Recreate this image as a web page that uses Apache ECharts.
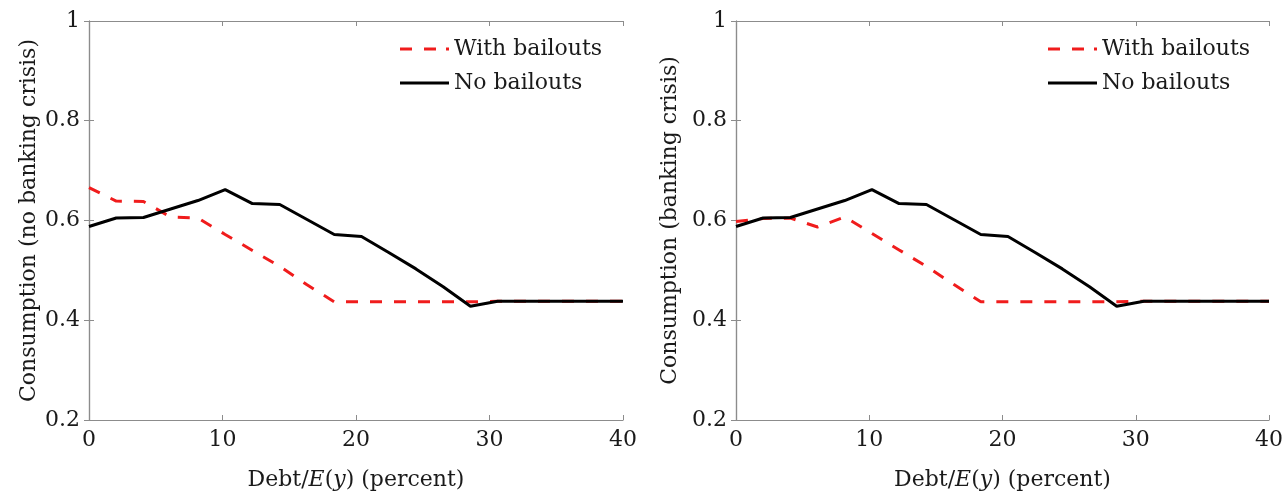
<!DOCTYPE html>
<html>
<head>
<meta charset="utf-8">
<script src="https://cdn.jsdelivr.net/npm/echarts@6/dist/echarts.min.js"></script>
<style>
html,body{margin:0;padding:0;background:#fff;}
#chart{width:1286px;height:496px;}
</style>
</head>
<body>
<div id="chart"></div>
<script>
// Debt / E(y) grid (percent)
const debt = [0, 2.04, 4.08, 6.12, 8.16, 10.2, 12.24, 14.29, 16.33, 18.37, 20.41, 22.45, 24.49, 26.53, 28.57, 30.61, 32.65, 34.69, 36.73, 38.78, 40];

// Left panel: no banking crisis
const leftWithBailouts = [0.666, 0.639, 0.638, 0.607, 0.605, 0.572, 0.540, 0.508, 0.471, 0.437, 0.437, 0.437, 0.437, 0.437, 0.437, 0.438, 0.438, 0.438, 0.438, 0.438, 0.438];
const leftNoBailouts   = [0.588, 0.605, 0.606, 0.623, 0.640, 0.662, 0.634, 0.632, 0.602, 0.572, 0.568, 0.536, 0.503, 0.467, 0.428, 0.438, 0.438, 0.438, 0.438, 0.438, 0.438];

// Right panel: banking crisis
const rightWithBailouts = [0.598, 0.604, 0.605, 0.587, 0.607, 0.574, 0.541, 0.508, 0.472, 0.437, 0.437, 0.437, 0.437, 0.437, 0.437, 0.438, 0.438, 0.438, 0.438, 0.438, 0.438];
const rightNoBailouts   = [0.588, 0.605, 0.606, 0.623, 0.640, 0.662, 0.634, 0.632, 0.602, 0.572, 0.568, 0.536, 0.503, 0.467, 0.428, 0.438, 0.438, 0.438, 0.438, 0.438, 0.438];

const seriesNames = ['With bailouts', 'No bailouts'];
const yTitles = ['Consumption (no banking crisis)', 'Consumption (banking crisis)'];
const xTitle = 'Debt/{i|E}({i|y}) (percent)';

const FONT = 'DejaVu Serif';
const TXT = '#1a1a1a';
const AX = '#8c8c8c';
const RED = '#f01c1c';

function pairs(xs, ys){ return xs.map((x,i)=>[x, ys[i]]); }

const grids = [
  {left: 89, top: 21, width: 534, height: 404},
  {left: 736, top: 21, width: 533, height: 404}
];

const xAxes = [], yAxes = [];
grids.forEach((g, gi) => {
  xAxes.push({
    type: 'value', gridIndex: gi, position: 'bottom', min: 0, max: 40, interval: 10,
    name: xTitle, nameLocation: 'middle', nameGap: 49,
    nameTextStyle: {fontFamily: FONT, fontSize: 22, color: TXT,
      rich: {i: {fontFamily: FONT, fontStyle: 'italic', fontSize: 22, color: TXT}}},
    axisLine: {show: true, lineStyle: {color: AX, width: 1.2}},
    axisTick: {show: true, inside: true, length: 5, lineStyle: {color: AX}},
    axisLabel: {fontFamily: FONT, fontSize: 22, color: TXT, margin: 9},
    splitLine: {show: false}
  });
  xAxes.push({
    type: 'value', gridIndex: gi, position: 'top', min: 0, max: 40, interval: 10,
    axisLine: {show: true, lineStyle: {color: AX, width: 1.2}},
    axisTick: {show: true, inside: true, length: 5, lineStyle: {color: AX}},
    axisLabel: {show: false}, splitLine: {show: false}
  });
  yAxes.push({
    type: 'value', gridIndex: gi, position: 'left', min: 0.2, max: 1, interval: 0.2,
    name: yTitles[gi], nameLocation: 'middle', nameGap: gi === 0 ? 49 : 55,
    nameTextStyle: {fontFamily: FONT, fontSize: 22, color: TXT},
    axisLine: {show: true, lineStyle: {color: AX, width: 1.2}},
    axisTick: {show: true, inside: true, length: 5, lineStyle: {color: AX}},
    axisLabel: {fontFamily: FONT, fontSize: 22, color: TXT, margin: 9,
      formatter: v => String(Math.round(v * 10) / 10)},
    splitLine: {show: false}
  });
  yAxes.push({
    type: 'value', gridIndex: gi, position: 'right', min: 0.2, max: 1, interval: 0.2,
    axisLine: {show: true, lineStyle: {color: AX, width: 1.2}},
    axisTick: {show: true, inside: true, length: 5, lineStyle: {color: AX}},
    axisLabel: {show: false}, splitLine: {show: false}
  });
});

const panelData = [
  [leftWithBailouts, leftNoBailouts],
  [rightWithBailouts, rightNoBailouts]
];

const series = [];
panelData.forEach((pd, gi) => {
  series.push({
    name: seriesNames[0], type: 'line', xAxisIndex: gi * 2, yAxisIndex: gi * 2,
    data: pairs(debt, pd[0]), symbol: 'none', silent: true, animation: false,
    lineStyle: {color: RED, width: 3, type: [12, 12]}, itemStyle: {color: RED}, z: 2
  });
  series.push({
    name: seriesNames[1], type: 'line', xAxisIndex: gi * 2, yAxisIndex: gi * 2,
    data: pairs(debt, pd[1]), symbol: 'none', silent: true, animation: false,
    lineStyle: {color: '#000', width: 3, type: 'solid'}, itemStyle: {color: '#000'}, z: 3
  });
});

const dashIcon = 'path://M0 0h12v3H0z M24 0h12v3H24z M46 0h3v3h-3z';
const solidIcon = 'path://M0 0h49v3H0z';

const legendBase = {
  data: [{name: seriesNames[0], icon: dashIcon}, {name: seriesNames[1], icon: solidIcon}],
  orient: 'vertical', top: 32, itemWidth: 49, itemHeight: 3, itemGap: 10,
  textStyle: {fontFamily: FONT, fontSize: 22, color: TXT, lineHeight: 24},
  selectedMode: false
};

const chart = echarts.init(document.getElementById('chart'), null, {renderer: 'canvas'});
chart.setOption({
  backgroundColor: '#fff',
  animation: false,
  grid: grids,
  xAxis: xAxes,
  yAxis: yAxes,
  legend: [Object.assign({}, legendBase, {left: 395}), Object.assign({}, legendBase, {left: 1043})],
  series: series
});
</script>
</body>
</html>
